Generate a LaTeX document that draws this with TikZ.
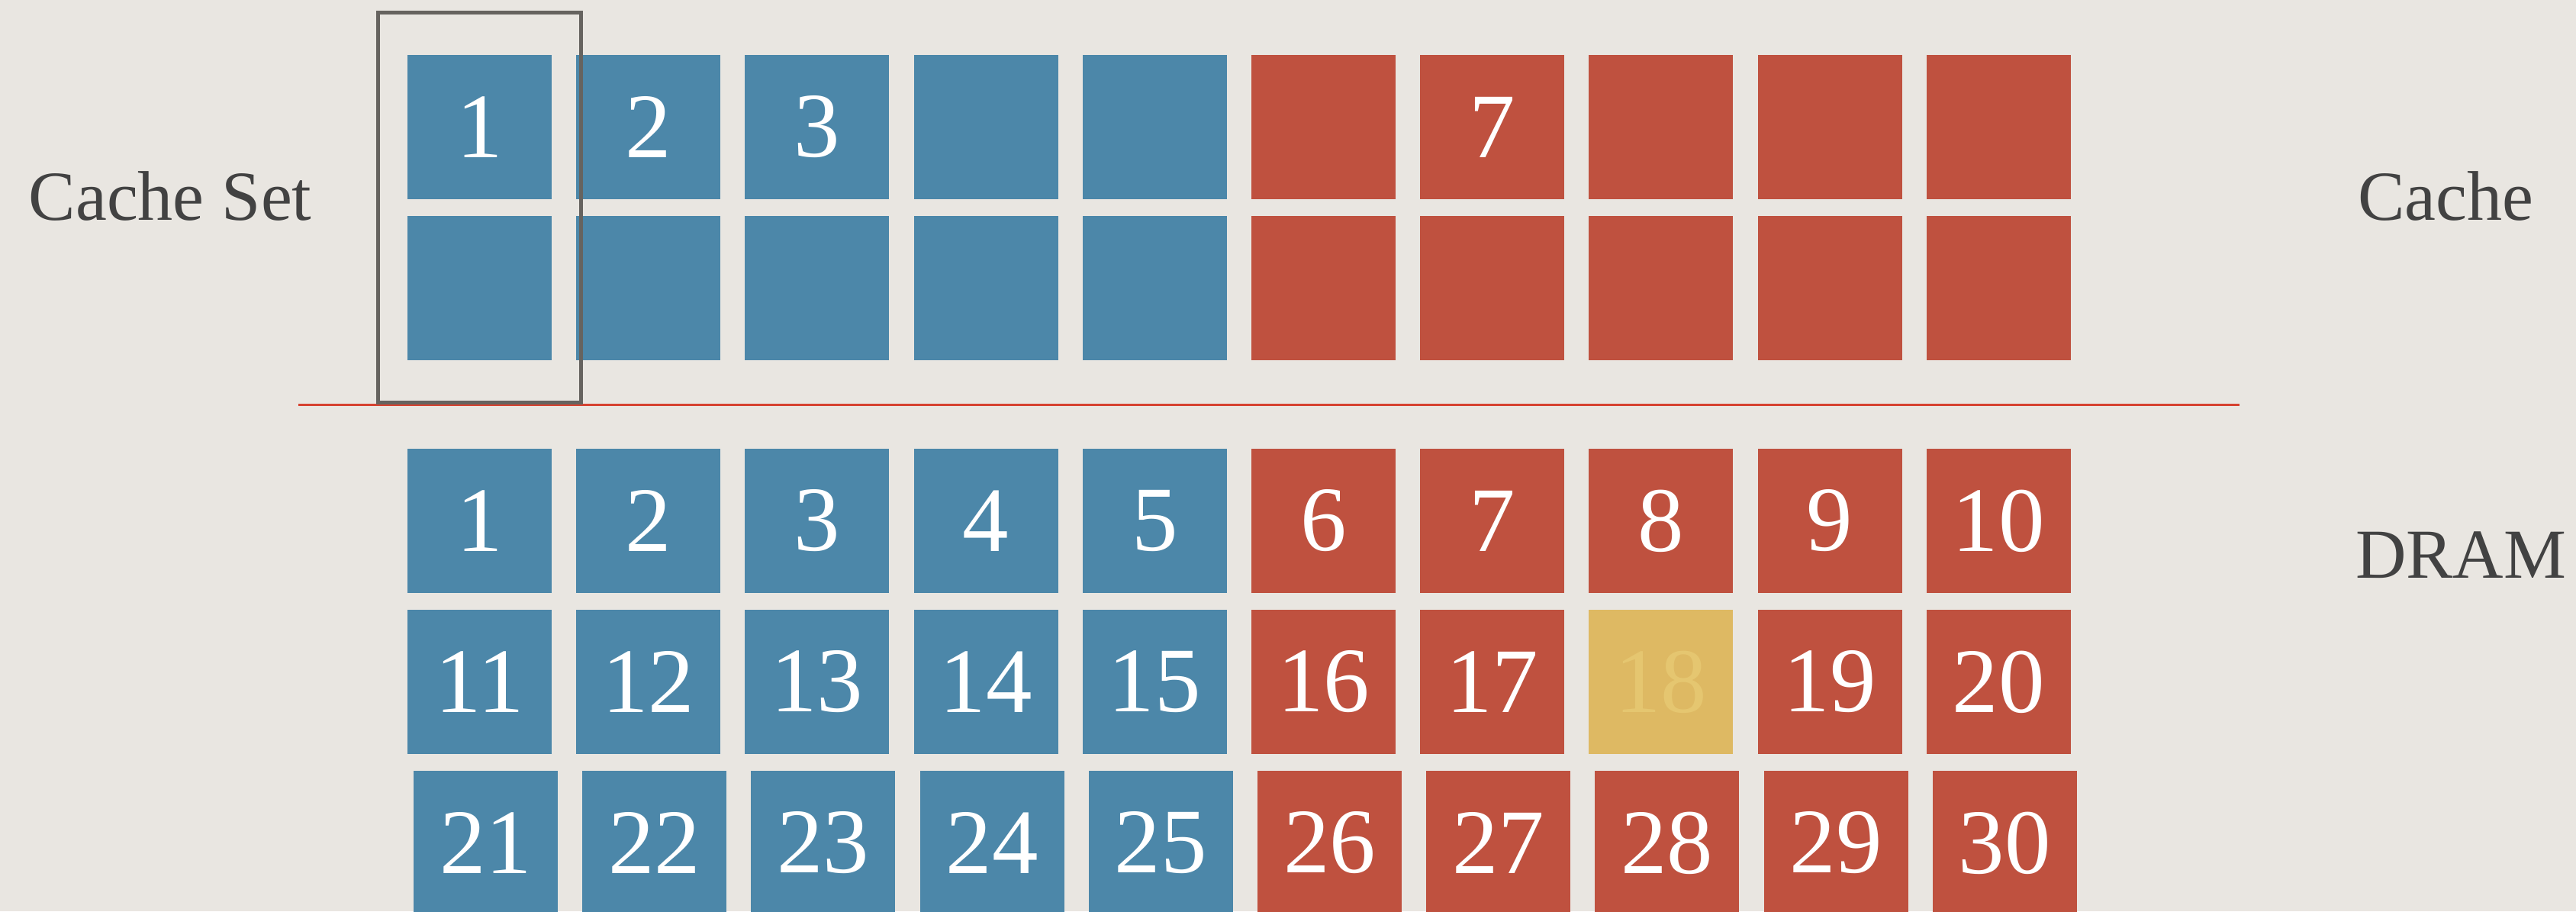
\documentclass[tikz,border=0pt]{standalone}
\usepackage{fontspec}
\setmainfont{Liberation Serif}
\usetikzlibrary{fit}
\definecolor{paper}{RGB}{233,230,225}
\definecolor{cellblue}{RGB}{76,135,169}
\definecolor{cellred}{RGB}{191,81,63}
\definecolor{cellgold}{RGB}{222,185,99}
\definecolor{paleink}{RGB}{229,198,112}
\definecolor{ink}{RGB}{66,66,66}
\definecolor{frame}{RGB}{102,99,95}
\definecolor{divider}{RGB}{214,66,48}
\tikzset{
  cell/.style={minimum size=1.89cm, inner sep=0pt, text=white,
               font=\fontsize{34.4}{40}\selectfont},
  side text/.style={anchor=base west, inner sep=0pt, text=ink,
               font=\fontsize{26.2}{30}\selectfont},
  set frame/.style={draw=frame, line width=0.05cm, inner xsep=0.38cm, inner ysep=0.545cm},
}

\begin{document}
\begin{tikzpicture}
  \fill[paper] (0,0) rectangle (33.76,-11.94);
  \useasboundingbox (0,0) rectangle (33.76,-11.94);

  % cache: two rows of ten lines
  \foreach \col/\clr/\txt in {1/cellblue/1, 2/cellblue/2, 3/cellblue/3, 4/cellblue/{},
      5/cellblue/{}, 6/cellred/{}, 7/cellred/7, 8/cellred/{}, 9/cellred/{}, 10/cellred/{}}{
    \node[cell, fill=\clr] (k1-\col) at ({4.073+2.212*\col}, -1.665) {\txt};
    \node[cell, fill=\clr] (k2-\col) at ({4.073+2.212*\col}, -3.775) {};
  }

  % dram: three rows, the last one slightly shifted
  \foreach \row/\y/\dx in {0/-6.825/0, 1/-8.935/0, 2/-11.045/0.08}{
    \foreach \col in {1,...,10}{
      \pgfmathtruncatemacro\idx{10*\row+\col}
      \ifnum\col<6 \def\clr{cellblue}\else\def\clr{cellred}\fi
      \def\tclr{white}
      \ifnum\idx=18 \def\clr{cellgold}\def\tclr{paleink}\fi
      \node[cell, fill=\clr, text=\tclr] (d\idx) at ({4.073+2.212*\col+\dx}, \y) {\idx};
    }
  }

  \coordinate (split west) at (3.91,-5.30);
  \coordinate (split east) at (29.35,-5.30);
  \draw[divider, line width=0.03cm] (split west) -- (split east);

  \node[set frame, fit=(k1-1)(k2-1)] (setbox) {};

  \node[side text] (setname) at (0.37,-2.88) {Cache Set};
  \node[side text, anchor=base east] (cachename) at (33.21,-2.88) {Cache};
  \node[side text, anchor=base east] (dramname) at (33.64,-7.57) {DRAM};
\end{tikzpicture}
\end{document}
